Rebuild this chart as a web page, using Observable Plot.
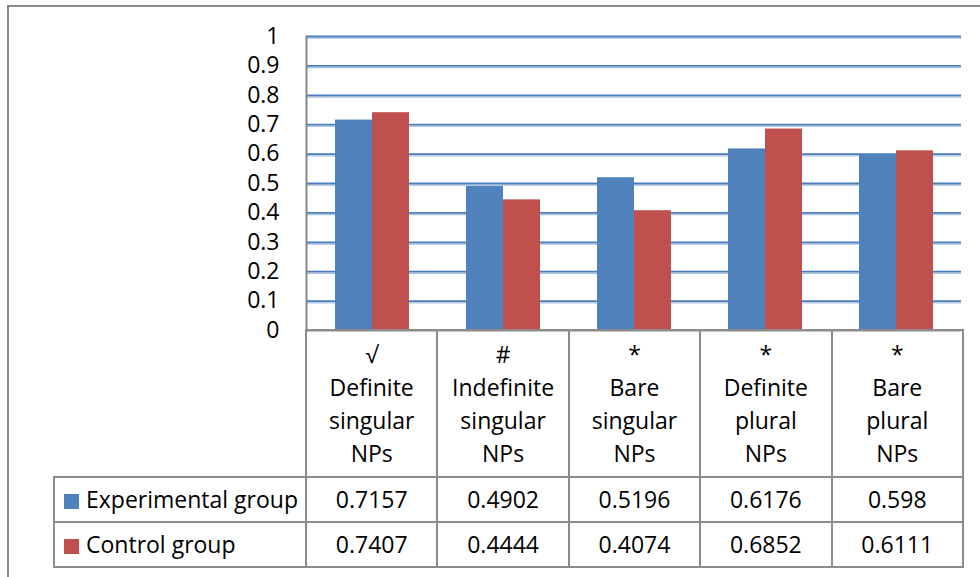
<!DOCTYPE html>
<html>
<head>
<meta charset="utf-8">
<script src="https://cdn.jsdelivr.net/npm/d3@7"></script>
<script src="https://cdn.jsdelivr.net/npm/@observablehq/plot@0.6"></script>
<style>
  html, body { margin: 0; padding: 0; background: #fff; }
  #chart {
    position: relative; width: 980px; height: 577px; overflow: hidden;
    font-family: "Open Sans", sans-serif; color: #000;
  }
  #frame {
    position: absolute; left: 7px; top: 5px; right: -10px; bottom: -10px;
    border-top: 2px solid #8a8a8a; border-left: 2px solid #8a8a8a;
  }
  #plot { position: absolute; left: 0; top: 0; }
  #plot svg { background: transparent; }
  table.data {
    position: absolute; left: 53px; top: 329px;
    border-collapse: collapse; table-layout: fixed;
    font-family: "Open Sans", sans-serif; font-size: 23px; color: #000;
  }
  table.data td {
    border: 2px solid #8c8c8c; padding: 0; text-align: center; vertical-align: middle;
    white-space: pre-line;
  }
  table.data tr.head td { height: 145px; line-height: 33px; }
  table.data tr.head td.blank { border-top: none; border-left: none; }
  table.data tr.row td { height: 43px; line-height: 43px; }
  table.data td.name { text-align: left; padding-left: 9px; white-space: nowrap; }
  .swatch { display: inline-block; width: 15px; height: 15px; margin-right: 7px; vertical-align: -1px; }
</style>
</head>
<body>
<div id="chart">
  <div id="frame"></div>
  <div id="plot"></div>
</div>
<script>
// Noun-phrase types, with the acceptability mark shown above each name
const categories = ["Definite\nsingular\nNPs", "Indefinite\nsingular\nNPs", "Bare\nsingular\nNPs", "Definite\nplural\nNPs", "Bare\nplural\nNPs"];
const categoryMarks = ["√", "#", "*", "*", "*"];

// Groups and their mean scores per noun-phrase type
const groups = ["Experimental group", "Control group"];
const groupColors = ["#4F81BD", "#C0504D"];
const experimental = [0.7157, 0.4902, 0.5196, 0.6176, 0.598];
const control = [0.7407, 0.4444, 0.4074, 0.6852, 0.6111];

// Value axis ticks
const yTicks = [0, 0.1, 0.2, 0.3, 0.4, 0.5, 0.6, 0.7, 0.8, 0.9, 1];
const yTickLabels = ["0", "0.1", "0.2", "0.3", "0.4", "0.5", "0.6", "0.7", "0.8", "0.9", "1"];

const seriesValues = [experimental, control];
const rows = [];
groups.forEach((g, gi) => categories.forEach((c, ci) => rows.push({category: c, group: g, value: seriesValues[gi][ci]})));

const gridTicks = yTicks.filter(d => d > 0);

const chart = Plot.plot({
  width: 980,
  height: 345,
  marginLeft: 305,
  marginRight: 18,
  marginTop: 36,
  marginBottom: 15,
  style: {fontFamily: "Open Sans, sans-serif", fontSize: "23px", color: "#000", background: "transparent"},
  fx: {domain: categories, padding: 0, axis: null},
  x: {domain: groups, paddingInner: 0, paddingOuter: 0.74, axis: null},
  y: {domain: [0, 1], axis: null},
  color: {domain: groups, range: groupColors},
  marks: [
    // double-line gridlines: dark blue with a paler shadow just beneath
    Plot.ruleY(gridTicks, {stroke: "#A9C1DF", strokeWidth: 1.3, dy: 1.7}),
    Plot.ruleY(gridTicks, {stroke: "#4A7EBB", strokeWidth: 1.8}),
    Plot.barY(rows, {fx: "category", x: "group", y: "value", fill: "group"}),
    Plot.ruleY([0], {stroke: "#8c8c8c", strokeWidth: 2}),
    // value axis line, drawn on the leftmost panel only
    Plot.frame({anchor: "left", facetAnchor: "left", stroke: "#868686", strokeWidth: 2}),
    Plot.axisY(yTicks, {
      anchor: "left", label: null, tickSize: 0, tickPadding: 27, fill: "#000", fontSize: 23,
      tickFormat: (d) => yTickLabels[yTicks.indexOf(d)]
    })
  ]
});
document.getElementById("plot").appendChild(chart);

// Data table beneath the bars: header row of NP types, then one row per group
const table = document.createElement("table");
table.className = "data";
const colgroup = document.createElement("colgroup");
[252, ...categories.map(() => 131.4)].forEach(w => {
  const col = document.createElement("col");
  col.style.width = w + "px";
  colgroup.appendChild(col);
});
table.appendChild(colgroup);

const head = document.createElement("tr");
head.className = "head";
const blank = document.createElement("td");
blank.className = "blank";
head.appendChild(blank);
categories.forEach((c, i) => {
  const td = document.createElement("td");
  td.textContent = categoryMarks[i] + "\n" + c;
  head.appendChild(td);
});
table.appendChild(head);

groups.forEach((g, gi) => {
  const tr = document.createElement("tr");
  tr.className = "row";
  const name = document.createElement("td");
  name.className = "name";
  const sw = document.createElement("span");
  sw.className = "swatch";
  sw.style.background = groupColors[gi];
  name.appendChild(sw);
  name.appendChild(document.createTextNode(g));
  tr.appendChild(name);
  seriesValues[gi].forEach(v => {
    const td = document.createElement("td");
    td.textContent = String(v);
    tr.appendChild(td);
  });
  table.appendChild(tr);
});
document.getElementById("chart").appendChild(table);
</script>
</body>
</html>
